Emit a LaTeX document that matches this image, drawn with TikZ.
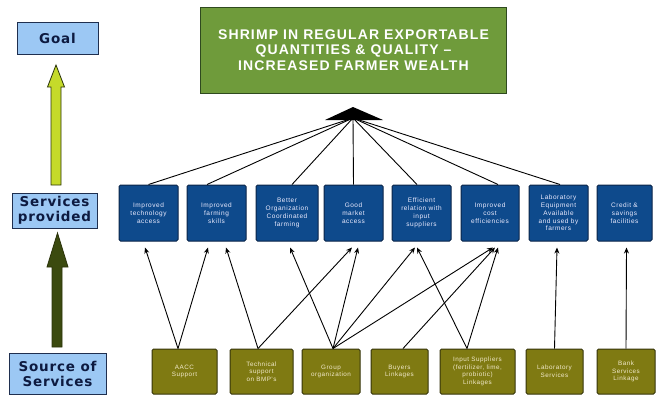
\documentclass[tikz,border=0pt]{standalone}
\usepackage{fontspec}
\setmainfont{Liberation Sans}
\newfontfamily\lblfont{DejaVu Sans}
\usetikzlibrary{arrows.meta}
\definecolor{lblfill}{HTML}{9CC8F4}
\definecolor{lbltext}{HTML}{0D1A40}
\definecolor{lblborder}{HTML}{1F2F4F}
\definecolor{goalfill}{HTML}{6F9B3B}
\definecolor{goalborder}{HTML}{2F4A1F}
\definecolor{svcfill}{HTML}{0E4A8C}
\definecolor{svcborder}{HTML}{0A2448}
\definecolor{srcfill}{HTML}{7F7A12}
\definecolor{srcborder}{HTML}{35340A}
\definecolor{srctext}{HTML}{F2EACB}
\definecolor{arrowlime}{HTML}{C5DA2A}
\definecolor{arrowdark}{HTML}{3B4A0F}
\definecolor{arrowedge}{HTML}{2A330A}
\tikzset{
  lbl/.style={draw=lblborder, fill=lblfill, line width=1pt, inner sep=0pt, align=center,
    text=lbltext, font=\lblfont\bfseries\fontsize{13.5}{15}\selectfont\addfontfeatures{LetterSpace=6}},
  goalbox/.style={draw=goalborder, fill=goalfill, line width=1pt, inner sep=0pt, align=center,
    text=white, font=\bfseries\fontsize{14}{15.5}\selectfont\addfontfeatures{LetterSpace=8}},
  svcbox/.style={draw=svcborder, fill=svcfill, line width=1pt, rounded corners=1.5pt, inner sep=0pt,
    minimum height=56pt, align=center, text=white!92!blue,
    font=\fontsize{6.5}{7.8}\selectfont\addfontfeatures{LetterSpace=8}},
  srcbox/.style={draw=srcborder, fill=srcfill, line width=1pt, rounded corners=1.5pt, inner sep=0pt,
    minimum height=45pt, align=center, text=srctext,
    font=\fontsize{6.3}{7.6}\selectfont\addfontfeatures{LetterSpace=8}},
  link/.style={line width=0.9pt, black},
  up/.style={line width=0.9pt, black, -{Stealth[length=6pt,width=5pt]}},
  bigarrow/.style={draw=arrowedge, line width=0.8pt, line join=miter}
}
\begin{document}
\begin{tikzpicture}[x=1pt,y=-1pt]
\useasboundingbox (0,0) rectangle (656,397);

% left labels
\node[lbl, minimum width=81pt, minimum height=32pt] (goal) at (57.5,38) {Goal};
\node[lbl, minimum width=85pt, minimum height=35pt] (prov) at (54.5,210.5) {Services\\provided};
\node[lbl, minimum width=97pt, minimum height=41pt] (src) at (57.5,373.5) {Source of\\Services};

% big vertical arrows
\filldraw[bigarrow, fill=arrowlime] (51,185) -- (51,87) -- (47.5,87) -- (56,65) -- (64.5,87) -- (61,87) -- (61,185) -- cycle;
\filldraw[bigarrow, fill=arrowdark] (52,347) -- (52,267) -- (47,267) -- (57.5,233) -- (68,267) -- (62,267) -- (62,347) -- cycle;

% goal
\node[goalbox, minimum width=306pt, minimum height=86pt] (top) at (353.5,50)
  {SHRIMP IN REGULAR EXPORTABLE\\QUANTITIES \& QUALITY --\\INCREASED FARMER WEALTH};

% services provided
\node[svcbox, minimum width=59pt] (b1) at (148.5,213) {Improved\\technology\\access};
\node[svcbox, minimum width=59pt] (b2) at (216.5,213) {Improved\\farming\\skills};
\node[svcbox, minimum width=62pt] (b3) at (287,213) {Better\\Organization\\Coordinated\\farming};
\node[svcbox, minimum width=59pt] (b4) at (353.5,213) {Good\\market\\access};
\node[svcbox, minimum width=59pt] (b5) at (421.5,213) {Efficient\\relation with\\input\\suppliers};
\node[svcbox, minimum width=58pt] (b6) at (490,213) {Improved\\cost\\efficiencies};
\node[svcbox, minimum width=59pt] (b7) at (558.5,213) {Laboratory\\Equipment\\Available\\and used by\\farmers};
\node[svcbox, minimum width=55pt] (b8) at (624.5,213) {Credit \&\\savings\\facilities};

% sources
\node[srcbox, minimum width=65pt] (s1) at (184.5,371.5) {AACC\\Support};
\node[srcbox, minimum width=63pt] (s2) at (261.5,371.5) {Technical\\support\\on BMP's};
\node[srcbox, minimum width=58pt] (s3) at (331,371.5) {Group\\organization};
\node[srcbox, minimum width=57pt] (s4) at (399.5,371.5) {Buyers\\Linkages};
\node[srcbox, minimum width=75pt] (s5) at (477.5,371.5) {Input Suppliers\\(fertilizer, lime,\\probiotic)\\Linkages};
\node[srcbox, minimum width=57pt] (s6) at (554.5,371.5) {Laboratory\\Services};
\node[srcbox, minimum width=58pt] (s7) at (626,371.5) {Bank\\Services\\Linkage};

% fan to goal
\coordinate (apex) at (353,118);
\fill (apex) ++(-28,2) -- ++(28,-13) -- ++(30,13) -- cycle;
\draw[link] (apex) -- (b1.north);
\draw[link] (apex) -- ([xshift=-9.5pt]b2.north);
\draw[link] (apex) -- ([xshift=5pt]b3.north);
\draw[link] (apex) -- (b4.north);
\draw[link] (apex) -- ([xshift=-4.5pt]b5.north);
\draw[link] (apex) -- ([xshift=8pt]b6.north);
\draw[link] (apex) -- ([xshift=1.5pt]b7.north);

% sources to services
\draw[up] ([xshift=-6.5pt]s1.north) -- ([xshift=-3.5pt,yshift=-6pt]b1.south);
\draw[up] ([xshift=-6.5pt]s1.north) -- ([xshift=-8.5pt,yshift=-6pt]b2.south);
\draw[up] ([xshift=-3.5pt]s2.north) -- ([xshift=9.5pt,yshift=-6pt]b2.south);
\draw[up] ([xshift=-3.5pt]s2.north) -- ([xshift=-1.5pt,yshift=-6pt]b4.south);
\draw[up] ([xshift=2pt]s3.north) -- ([xshift=3pt,yshift=-6pt]b3.south);
\draw[up] ([xshift=2pt]s3.north) -- ([xshift=4.5pt,yshift=-6pt]b4.south);
\draw[up] ([xshift=2pt]s3.north) -- ([xshift=-6.5pt,yshift=-6pt]b5.south);
\draw[up] ([xshift=2pt]s3.north) -- ([xshift=3pt,yshift=-6pt]b6.south);
\draw[up] ([xshift=3.5pt]s4.north) -- ([xshift=5pt,yshift=-6pt]b6.south);
\draw[up] ([xshift=-10.5pt]s5.north) -- ([xshift=-4.5pt,yshift=-6pt]b5.south);
\draw[up] ([xshift=-10.5pt]s5.north) -- ([xshift=8pt,yshift=-6pt]b6.south);
\draw[up] ([xshift=0pt]s6.north) -- ([xshift=-1.5pt,yshift=-6pt]b7.south);
\draw[up] ([xshift=0pt]s7.north) -- ([xshift=2pt,yshift=-6pt]b8.south);
\end{tikzpicture}
\end{document}
